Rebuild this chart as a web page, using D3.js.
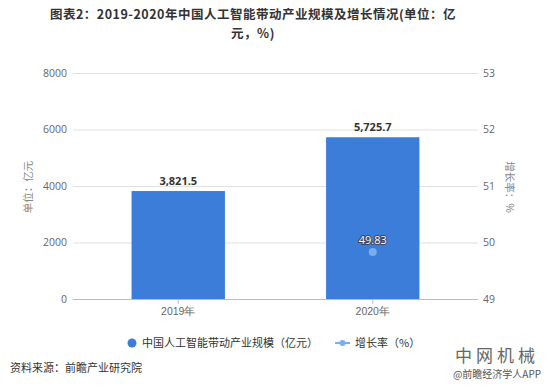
<!DOCTYPE html>
<html><head><meta charset="utf-8">
<script src="https://cdn.jsdelivr.net/npm/d3@7"></script>
<style>body{margin:0;background:#fff;} svg{display:block;font-family:"Noto Sans CJK SC","Microsoft YaHei",sans-serif;}</style>
</head><body>
<svg id="c" width="560" height="389"></svg>
<script>
const categories = ["2019年", "2020年"];
const scaleValues = [3821.5, 5725.7];
const growthValues = [null, 49.83];
const leftTicks = [0, 2000, 4000, 6000, 8000];
const rightTicks = [49, 50, 51, 52, 53];

const svg = d3.select("#c");
const W = 560, H = 389;
const gx0 = 73, gx1 = 478, yTop = 73, yBot = 299;

const x = d3.scaleBand().domain(categories).range([81, 470]).paddingInner(0.52).paddingOuter(0.26);
const y = d3.scaleLinear().domain([0, 8000]).range([yBot, yTop]);
const y2 = d3.scaleLinear().domain([49, 53]).range([yBot, yTop]);

// title
const title = svg.append("g").attr("font-weight", "bold").attr("fill", "#333").attr("font-size", 12.5)
  .attr("letter-spacing", 0.5).attr("text-anchor", "middle");
title.append("text").attr("x", 253).attr("y", 19).text("图表2：2019-2020年中国人工智能带动产业规模及增长情况(单位：亿");
title.append("text").attr("x", 253).attr("y", 37.5).text("元，%)");

// gridlines
svg.append("g").selectAll("line").data(leftTicks).join("line")
  .attr("x1", gx0).attr("x2", gx1).attr("y1", d => y(d) + 0.5).attr("y2", d => y(d) + 0.5)
  .attr("stroke", d => d === 0 ? "#bbb" : "#e0e0e0").attr("stroke-width", 1);

// left axis
const la = svg.append("g").attr("transform", `translate(${gx0},0)`)
  .call(d3.axisLeft(y).tickValues(leftTicks).tickSize(0).tickPadding(6).tickFormat(d3.format("d")));
la.select(".domain").remove();
la.selectAll("text").attr("fill", "#666").attr("font-size", 10.5).attr("font-family", "'Open Sans','Noto Sans',sans-serif");

// right axis
const ra = svg.append("g").attr("transform", `translate(${gx1},0)`)
  .call(d3.axisRight(y2).tickValues(rightTicks).tickSize(0).tickPadding(5).tickFormat(d3.format("d")));
ra.select(".domain").remove();
ra.selectAll("text").attr("fill", "#666").attr("font-size", 10.5).attr("font-family", "'Open Sans','Noto Sans',sans-serif");

// axis titles
svg.append("text").attr("transform", `translate(32,187) rotate(-90)`).attr("text-anchor", "middle")
  .attr("font-size", 10.5).attr("fill", "#888").text("单位：亿元");
svg.append("text").attr("transform", `translate(506,187) rotate(90)`).attr("text-anchor", "middle")
  .attr("font-size", 10.5).attr("fill", "#888").text("增长率：%");

// bars
svg.append("g").selectAll("rect").data(scaleValues).join("rect")
  .attr("x", (d, i) => x(categories[i])).attr("width", x.bandwidth())
  .attr("y", d => y(d)).attr("height", d => yBot - y(d)).attr("fill", "#3c7dd9");

// bar labels
svg.append("g").selectAll("text").data(scaleValues).join("text")
  .attr("x", (d, i) => x(categories[i]) + x.bandwidth() / 2).attr("y", d => y(d) - 6)
  .attr("text-anchor", "middle").attr("font-size", 11).attr("font-weight", "bold").attr("fill", "#333")
  .attr("font-family", "'Open Sans','Noto Sans',sans-serif")
  .text(d => d3.format(",.1f")(d));

// x tick marks and labels
const xa = svg.append("g").attr("transform", `translate(0,${yBot})`)
  .call(d3.axisBottom(x).tickSize(5).tickPadding(4));
xa.select(".domain").remove();
xa.selectAll("line").attr("stroke", "#bbb");
xa.selectAll("text").attr("fill", "#666").attr("font-size", 10.5);

// growth points
const gp = growthValues.map((v, i) => ({ v, c: categories[i] })).filter(d => d.v !== null);
svg.append("g").selectAll("circle").data(gp).join("circle")
  .attr("cx", d => x(d.c) + x.bandwidth() / 2).attr("cy", d => y2(d.v)).attr("r", 4).attr("fill", "#78aef0");
svg.append("g").selectAll("text").data(gp).join("text")
  .attr("x", d => x(d.c) + x.bandwidth() / 2).attr("y", d => y2(d.v) - 8)
  .attr("text-anchor", "middle").attr("font-size", 11).attr("fill", "#fff")
  .attr("stroke", "#445").attr("stroke-width", 2).attr("paint-order", "stroke")
  .attr("font-family", "'Open Sans','Noto Sans',sans-serif")
  .text(d => d.v.toFixed(2));

// legend
const lg = svg.append("g").attr("font-size", 11).attr("fill", "#333");
lg.append("circle").attr("cx", 132).attr("cy", 343).attr("r", 4.5).attr("fill", "#3c7dd9");
lg.append("text").attr("x", 142).attr("y", 347).text("中国人工智能带动产业规模（亿元）");
lg.append("line").attr("x1", 335).attr("x2", 350).attr("y1", 343).attr("y2", 343).attr("stroke", "#78aef0").attr("stroke-width", 2);
lg.append("circle").attr("cx", 342.5).attr("cy", 343).attr("r", 3).attr("fill", "#78aef0");
lg.append("text").attr("x", 355).attr("y", 347).text("增长率（%）");

// source
svg.append("text").attr("x", 10).attr("y", 372).attr("font-size", 11).attr("fill", "#333").text("资料来源：前瞻产业研究院");

// watermark
svg.append("text").attr("x", 497).attr("y", 362).attr("text-anchor", "middle").attr("font-size", 17)
  .attr("fill", "#666").attr("letter-spacing", 4).text("中网机械");
svg.append("text").attr("x", 497).attr("y", 378).attr("text-anchor", "middle").attr("font-size", 10)
  .attr("fill", "#555").text("@前瞻经济学人APP");
</script>
</body></html>
